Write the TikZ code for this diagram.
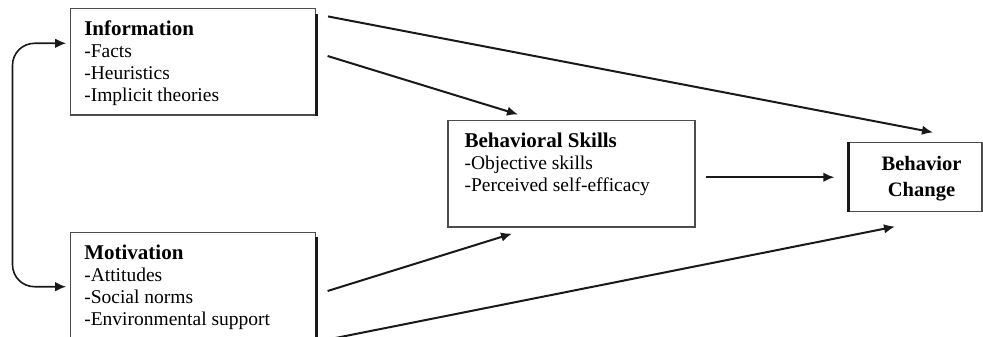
\documentclass[tikz,border=0pt]{standalone}
\usepackage{fontspec}
\setmainfont{Liberation Serif}
\usetikzlibrary{arrows.meta,positioning}

\newcommand{\boxhead}[1]{{\bfseries\fontsize{21pt}{22pt}\selectfont #1}}

\begin{document}
\begin{tikzpicture}[x=1pt, y=-1pt,
		box/.style={rectangle, draw=black!70, line width=1.2pt},
		boxtext/.style={align=left, inner sep=0pt, font=\fontsize{19.5pt}{22pt}\selectfont},
		edge/.style={line width=3pt, black!90},
		link/.style={->, line width=2pt, black!90},
		>={Latex[length=11pt,width=9.5pt]}]
		\useasboundingbox (0,0) rectangle (983,337);
		\clip (0,0) rectangle (983,337);
		
		% the four boxes
		\node (info) [box, minimum width=244.8pt, minimum height=106.7pt] at (193.1,61.7) {};
		\node (motiv) [box, minimum width=244.8pt, minimum height=111.3pt] at (193.1,288.4) {};
		\node (skills) [box, minimum width=247pt, minimum height=106.3pt] at (571.5,173.9) {};
		\node (change) [box, minimum width=133pt, minimum height=69pt] at (915.5,177.2) {};
		
		\node (infotext) [boxtext, below right=13pt and 14pt of info.north west] {\boxhead{Information}\\-Facts\\-Heuristics\\-Implicit theories};
		\node (motivtext) [boxtext, below right=12.5pt and 14pt of motiv.north west] {\boxhead{Motivation}\\-Attitudes\\-Social norms\\-Environmental support};
		\node (skillstext) [boxtext, below right=12.5pt and 17pt of skills.north west] {\boxhead{Behavioral Skills}\\-Objective skills\\-Perceived self-efficacy};
		\node (changetext) [boxtext, align=center, font=\bfseries\fontsize{20.5pt}{26pt}\selectfont] at ([xshift=6pt,yshift=-1.5pt]change.center) {Behavior\\Change};
		
		% heavy edges
		\draw [edge] ([yshift=-6.7pt]info.north east) -- (info.south east);
		\draw [edge] ([yshift=-5.3pt]motiv.north east) -- (motiv.south east);
		\draw [edge] (change.north west) -- (change.south west);
		
		\draw [link] ([shift={(12pt,-8.7pt)}]info.north east) -- ([shift={(17.5pt,9.7pt)}]change.north);
		\draw [link] ([shift={(11.5pt,5.7pt)}]info.east) -- ([shift={(-53.5pt,5.7pt)}]skills.north);
		\draw [link] ([shift={(11.5pt,-2.6pt)}]motiv.east) -- ([shift={(-59.5pt,-6pt)}]skills.south);
		\draw [link] ([shift={(12pt,5.2pt)}]motiv.south east) -- ([shift={(-20.5pt,-14.3pt)}]change.south);
		\draw [link] ([xshift=10pt]skills.east |- change.west) -- ([xshift=-14pt]change.west);
		
		\coordinate (loop) at (12.5,0);
		\draw [<->, line width=1.6pt, black!90, rounded corners=22pt, shorten <=4pt, shorten >=4pt]
		([yshift=18.4pt]info.west) -- ([yshift=18.4pt]info.west -| loop) -- ([yshift=1.7pt]motiv.west -| loop) -- ([yshift=1.7pt]motiv.west);
		
	\end{tikzpicture}
\end{document}
